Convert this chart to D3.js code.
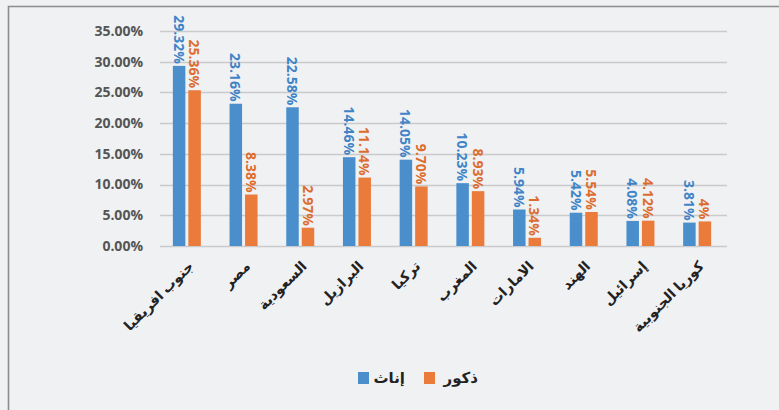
<!DOCTYPE html>
<html>
<head>
<meta charset="utf-8">
<script src="https://cdn.jsdelivr.net/npm/d3@7"></script>
<style>
  body { margin: 0; background: #f0f1f3; }
  svg { display: block; }
  .tick-label { font-family: "Open Sans", sans-serif; font-weight: 700; font-size: 14px; fill: #555; }
  .val { font-family: "Open Sans", sans-serif; font-weight: 700; font-size: 14px; }
  .cat { font-family: "Noto Sans", "DejaVu Sans", sans-serif; font-weight: 700; font-size: 14px; fill: #222; }
  .leg { font-family: "Noto Sans", "DejaVu Sans", sans-serif; font-weight: 700; font-size: 15px; fill: #222; }
</style>
</head>
<body>
<div id="chart"></div>
<script>
  // data
  var countries = ["جنوب افريقيا", "مصر", "السعودية", "البرازيل", "تركيا", "المغرب", "الامارات", "الهند", "إسرائيل", "كوريا الجنوبية"];
  var females = [29.32, 23.16, 22.58, 14.46, 14.05, 10.23, 5.94, 5.42, 4.08, 3.81];
  var males = [25.36, 8.38, 2.97, 11.14, 9.70, 8.93, 1.34, 5.54, 4.12, 4];
  var femaleLabels = ["29.32%", "23.16%", "22.58%", "14.46%", "14.05%", "10.23%", "5.94%", "5.42%", "4.08%", "3.81%"];
  var maleLabels = ["25.36%", "8.38%", "2.97%", "11.14%", "9.70%", "8.93%", "1.34%", "5.54%", "4.12%", "4%"];
  var yTicks = [0, 5, 10, 15, 20, 25, 30, 35];
  var seriesNames = ["إناث", "ذكور"];

  var width = 779, height = 410;
  var blue = "#4a8fcb", orange = "#ea7b3b";
  var blueText = "#3f84c6", orangeText = "#dc6d2e";

  var plot_left = 160, plot_right = 727, plot_top = 31, plot_bottom = 246;

  var svg = d3.select("#chart").append("svg")
    .attr("width", width)
    .attr("height", height);

  // frame
  svg.append("path")
    .attr("d", "M8.5,410 L8.5,6.5 L779,6.5")
    .attr("fill", "none")
    .attr("stroke", "#8c8c8c")
    .attr("stroke-width", 1.6);

  var x = d3.scaleBand().domain(countries).range([plot_left, plot_right]);
  var y = d3.scaleLinear().domain([0, 35]).range([plot_bottom, plot_top]);

  // gridlines
  svg.selectAll(".grid")
    .data(yTicks)
    .enter()
    .append("line")
    .attr("class", "grid")
    .attr("x1", plot_left)
    .attr("x2", plot_right)
    .attr("y1", function(d){ return Math.round(y(d)) + 0.5; })
    .attr("y2", function(d){ return Math.round(y(d)) + 0.5; })
    .attr("stroke", "#c9cacc")
    .attr("stroke-width", 1.3);

  svg.selectAll(".tick-label")
    .data(yTicks)
    .enter()
    .append("text")
    .attr("class", "tick-label")
    .attr("x", 143)
    .attr("y", function(d){ return y(d); })
    .attr("dy", "0.35em")
    .attr("text-anchor", "end")
    .text(function(d){ return d.toFixed(2) + "%"; });

  var barW = 12.5, gap = 3;

  var series = [
    {vals: females, labels: femaleLabels, color: blue, text: blueText, off: -gap/2 - barW},
    {vals: males, labels: maleLabels, color: orange, text: orangeText, off: gap/2}
  ];

  series.forEach(function(s){
    svg.selectAll(null)
      .data(countries)
      .enter()
      .append("rect")
      .attr("x", function(d){ return x(d) + x.bandwidth()/2 + s.off - 1.5; })
      .attr("y", function(d, i){ return y(s.vals[i]); })
      .attr("width", barW)
      .attr("height", function(d, i){ return y(0) - y(s.vals[i]); })
      .attr("fill", s.color);

    svg.selectAll(null)
      .data(countries)
      .enter()
      .append("text")
      .attr("class", "val")
      .attr("fill", s.text)
      .attr("text-anchor", "end")
      .attr("dominant-baseline", "central")
      .attr("transform", function(d, i){
        var cx = x(d) + x.bandwidth()/2 + s.off - 1.5 + barW/2;
        return "translate(" + cx + "," + (y(s.vals[i]) - 2) + ") rotate(90)";
      })
      .text(function(d, i){ return s.labels[i]; });
  });

  // category labels
  svg.selectAll(".cat")
    .data(countries)
    .enter()
    .append("text")
    .attr("class", "cat")
    .attr("text-anchor", "end")
    .attr("transform", function(d){
      return "translate(" + (x(d) + x.bandwidth()/2 + 6) + ",267) rotate(-45)";
    })
    .text(function(d){ return d; });

  // legend
  var legend = [
    {name: seriesNames[0], color: blue, sx: 358, tx: 405},
    {name: seriesNames[1], color: orange, sx: 424, tx: 478}
  ];
  legend.forEach(function(l){
    svg.append("rect")
      .attr("x", l.sx)
      .attr("y", 372)
      .attr("width", 11)
      .attr("height", 12)
      .attr("fill", l.color);
    svg.append("text")
      .attr("class", "leg")
      .attr("x", l.tx)
      .attr("y", 378)
      .attr("dy", "0.35em")
      .attr("text-anchor", "end")
      .text(l.name);
  });
</script>
</body>
</html>
